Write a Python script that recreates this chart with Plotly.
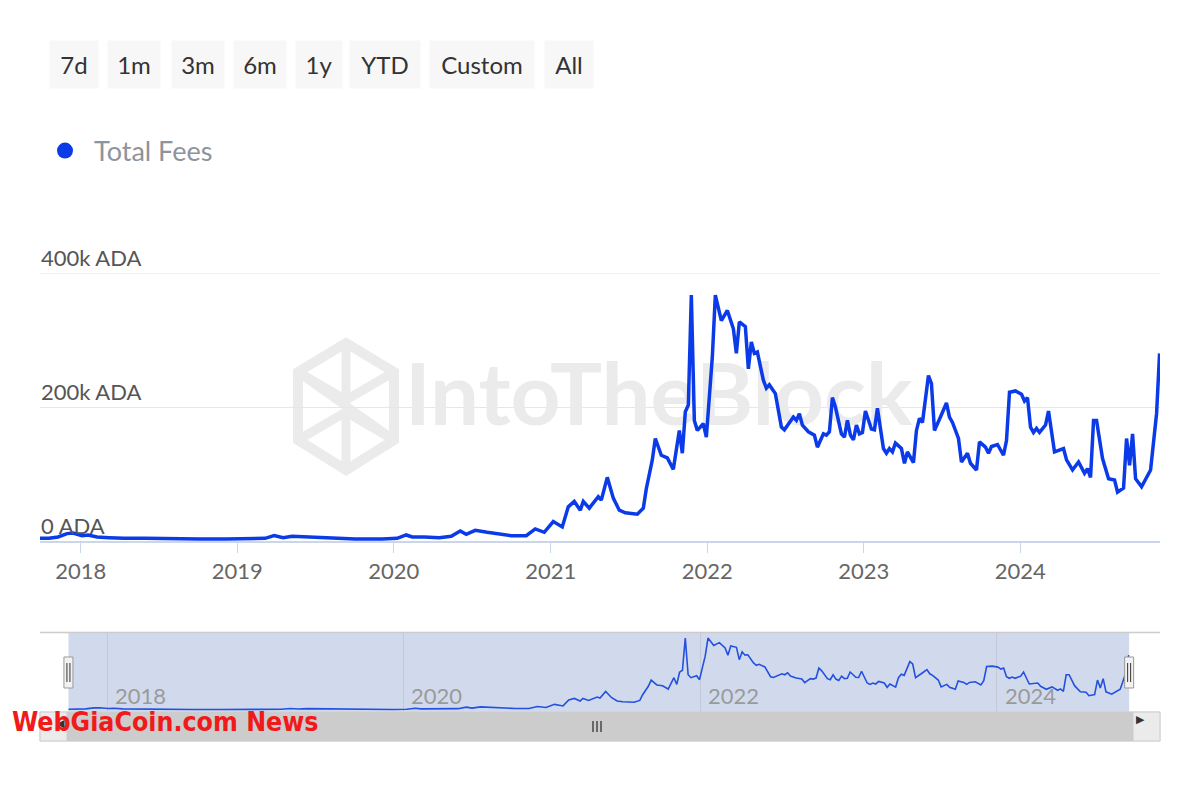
import plotly.graph_objects as go

# ---------------- data ----------------
dates = [
    "2017-09-28", "2017-10-19", "2017-11-09", "2017-11-30", "2017-12-14", "2018-01-04", "2018-01-18",
    "2018-02-08", "2018-03-08", "2018-04-12", "2018-05-31", "2018-08-02", "2018-10-04", "2018-12-06",
    "2019-01-31", "2019-03-07", "2019-03-28", "2019-04-18", "2019-05-09", "2019-06-13", "2019-08-01",
    "2019-10-03", "2019-12-05", "2020-01-09", "2020-01-30", "2020-02-13", "2020-03-12", "2020-04-16",
    "2020-05-14", "2020-06-04", "2020-06-18", "2020-07-09", "2020-08-06", "2020-09-03", "2020-10-01",
    "2020-11-05", "2020-11-26", "2020-12-17", "2021-01-07", "2021-01-28", "2021-02-11", "2021-02-25",
    "2021-03-11", "2021-03-18", "2021-04-01", "2021-04-22", "2021-04-29", "2021-05-13", "2021-05-27",
    "2021-06-10", "2021-06-24", "2021-07-22", "2021-08-05", "2021-08-12", "2021-08-26", "2021-09-02",
    "2021-09-16", "2021-09-30", "2021-10-14", "2021-10-28", "2021-11-04", "2021-11-11", "2021-11-18",
    "2021-11-25", "2021-12-02", "2021-12-09", "2021-12-23", "2021-12-30", "2022-01-13", "2022-01-20",
    "2022-02-03", "2022-02-17", "2022-03-03", "2022-03-10", "2022-03-17", "2022-03-31", "2022-04-07",
    "2022-04-14", "2022-04-21", "2022-04-28", "2022-05-12", "2022-05-19", "2022-05-26", "2022-06-09",
    "2022-06-23", "2022-06-30", "2022-07-21", "2022-07-28", "2022-08-04", "2022-08-11", "2022-08-25",
    "2022-09-08", "2022-09-15", "2022-09-29", "2022-10-06", "2022-10-13", "2022-10-20", "2022-10-27",
    "2022-11-10", "2022-11-17", "2022-11-24", "2022-12-01", "2022-12-08", "2022-12-15", "2022-12-22",
    "2022-12-29", "2023-01-05", "2023-01-19", "2023-01-26", "2023-02-02", "2023-02-16", "2023-02-23",
    "2023-03-02", "2023-03-09", "2023-03-16", "2023-03-30", "2023-04-06", "2023-04-13", "2023-04-27",
    "2023-05-04", "2023-05-11", "2023-05-18", "2023-06-01", "2023-06-08", "2023-06-15", "2023-06-29",
    "2023-07-13", "2023-07-20", "2023-07-27", "2023-08-10", "2023-08-17", "2023-08-31", "2023-09-07",
    "2023-09-21", "2023-09-28", "2023-10-12", "2023-10-19", "2023-10-26", "2023-11-09", "2023-11-23",
    "2023-11-30", "2023-12-07", "2023-12-21", "2024-01-04", "2024-01-11", "2024-01-18", "2024-01-25",
    "2024-02-01", "2024-02-08", "2024-02-15", "2024-02-29", "2024-03-07", "2024-03-21", "2024-04-11",
    "2024-04-18", "2024-05-02", "2024-05-16", "2024-05-30", "2024-06-06", "2024-06-13", "2024-06-20",
    "2024-06-27", "2024-07-11", "2024-07-25", "2024-08-08", "2024-08-15", "2024-08-29", "2024-09-05",
    "2024-09-12", "2024-09-19", "2024-09-26", "2024-10-10", "2024-10-31", "2024-11-14", "2024-11-21",
]

total_fees = [
    4000, 4000, 6000, 11000, 12000, 8000, 9000,
    6000, 5000, 4000, 4000, 3000, 3000, 3000,
    3000, 4000, 8000, 5000, 7000, 6000, 4000,
    3000, 3000, 4000, 9000, 6000, 6000, 5000,
    7000, 15000, 10000, 16000, 13000, 10000, 8000,
    8000, 18000, 13000, 29000, 21000, 51000, 59000,
    46000, 59000, 49000, 66000, 61000, 95000, 64000,
    46000, 42000, 40000, 49000, 78000, 121000, 153000,
    128000, 124000, 107000, 165000, 131000, 193000, 203000,
    367000, 180000, 165000, 175000, 155000, 275000, 367000,
    329000, 344000, 317000, 280000, 327000, 320000, 257000,
    297000, 280000, 282000, 240000, 228000, 233000, 220000,
    170000, 166000, 185000, 180000, 190000, 173000, 163000,
    158000, 140000, 160000, 158000, 163000, 214000, 200000,
    160000, 155000, 180000, 158000, 151000, 173000, 160000,
    162000, 194000, 167000, 166000, 198000, 138000, 131000,
    138000, 133000, 146000, 138000, 116000, 133000, 117000,
    165000, 183000, 177000, 247000, 235000, 165000, 185000,
    206000, 185000, 177000, 153000, 118000, 131000, 116000,
    106000, 148000, 140000, 131000, 141000, 144000, 128000,
    150000, 222000, 224000, 219000, 209000, 214000, 170000,
    162000, 168000, 162000, 173000, 194000, 133000, 138000,
    121000, 106000, 118000, 101000, 108000, 95000, 180000,
    180000, 123000, 93000, 91000, 73000, 79000, 153000,
    113000, 160000, 93000, 81000, 106000, 190000, 280000,
]

y_tick_values = [0, 200000, 400000]
y_tick_labels = ["0 ADA", "200k ADA", "400k ADA"]
x_tick_years = ["2018", "2019", "2020", "2021", "2022", "2023", "2024"]
nav_tick_years = ["2018", "2020", "2022", "2024"]
range_buttons = ["7d", "1m", "3m", "6m", "1y", "YTD", "Custom", "All"]
series_name = "Total Fees"

# ---------------- styling helpers ----------------
W, H = 1200, 800
ML, MR = 40, 40
PW = W - ML - MR


def px2x(px):
    return (px - ML) / PW


def px2y(py):
    return 1 - py / H


BLUE = "#0b3be8"
FONT = "Lato"

view_start, view_end = "2017-09-28", "2024-11-22"
nav_start, nav_end = "2017-07-20", "2025-02-06"

fig = go.Figure()

# watermark text (drawn first, so the line goes over it)
fig.add_trace(go.Scatter(
    x=["2021-09-10"], y=[205000], mode="text", text=["IntoTheBlock"],
    textfont=dict(family=FONT, size=87, color="#ebebeb", weight="bold"),
    hoverinfo="skip", showlegend=False, cliponaxis=False,
))

# main line
fig.add_trace(go.Scatter(
    x=dates, y=total_fees, mode="lines", name=series_name,
    line=dict(color=BLUE, width=3.5), showlegend=False,
    xaxis="x", yaxis="y",
))

# navigator line
fig.add_trace(go.Scatter(
    x=dates, y=total_fees, mode="lines", name=series_name,
    line=dict(color="#2450e0", width=1.6), showlegend=False,
    xaxis="x2", yaxis="y2", hoverinfo="skip",
))

# legend entry (dot)
fig.add_trace(go.Scatter(
    x=[None], y=[None], mode="markers", name=series_name,
    marker=dict(color=BLUE, size=19, symbol="circle"), showlegend=True,
))

shapes = []
nav_top, nav_bot = 633, 712
sb_top, sb_bot = 712, 741

# IntoTheBlock logo (hexagon outline)
hexpts = [(346, 343), (394, 372), (394, 440), (346, 470), (298, 440), (298, 372)]
path = "M " + " L ".join(f"{px2x(a)},{px2y(b)}" for a, b in hexpts) + " Z"
shapes.append(dict(type="path", xref="paper", yref="paper", path=path,
                   line=dict(color="#ebebeb", width=10), layer="below"))
inner = [
    [(298, 372), (346, 400), (394, 372)],
    [(346, 343), (346, 400)],
    [(298, 440), (346, 412), (394, 440)],
    [(346, 412), (346, 470)],
    [(298, 372), (394, 440)],
]
for seg in inner:
    p = "M " + " L ".join(f"{px2x(a)},{px2y(b)}" for a, b in seg)
    shapes.append(dict(type="path", xref="paper", yref="paper", path=p,
                       line=dict(color="#ebebeb", width=9), layer="below"))

# top grid line (400k) at the upper edge of the plot
shapes.append(dict(type="line", xref="paper", yref="y", x0=0, x1=1,
                   y0=y_tick_values[-1], y1=y_tick_values[-1],
                   line=dict(color="#e6e6e6", width=1), layer="below"))

# navigator mask for the selected range
shapes.append(dict(type="rect", xref="x2", yref="paper", x0=view_start, x1=view_end,
                   y0=px2y(nav_bot), y1=px2y(nav_top),
                   fillcolor="rgba(102,133,194,0.3)", line=dict(width=0), layer="below"))
# navigator top outline
shapes.append(dict(type="line", xref="paper", yref="paper", x0=0, x1=1,
                   y0=px2y(nav_top - 0.5), y1=px2y(nav_top - 0.5),
                   line=dict(color="#cccccc", width=1.5)))

# scrollbar
shapes.append(dict(type="rect", xref="paper", yref="paper", x0=0, x1=1,
                   y0=px2y(sb_bot), y1=px2y(sb_top), fillcolor="#f2f2f2",
                   line=dict(color="#e0e0e0", width=1)))
shapes.append(dict(type="rect", xref="paper", yref="paper", x0=px2x(67), x1=px2x(1133),
                   y0=px2y(sb_bot), y1=px2y(sb_top), fillcolor="#cccccc",
                   line=dict(color="#cccccc", width=1)))
for a, b in [(40, 67), (1133, 1160)]:
    shapes.append(dict(type="rect", xref="paper", yref="paper", x0=px2x(a), x1=px2x(b),
                       y0=px2y(sb_bot), y1=px2y(sb_top), fillcolor="#ebebeb",
                       line=dict(color="#cccccc", width=1)))
# grip on thumb
for off in (-4, 0, 4):
    shapes.append(dict(type="line", xref="paper", yref="paper",
                       x0=px2x(597 + off), x1=px2x(597 + off),
                       y0=px2y(732), y1=px2y(721), line=dict(color="#333333", width=1.3)))

# navigator handles
for anchor in (view_start, view_end):
    shapes.append(dict(type="rect", xref="x2", yref="paper", xsizemode="pixel", xanchor=anchor,
                       x0=-4.5, x1=4.5, y0=px2y(688), y1=px2y(657),
                       fillcolor="#f2f2f2", line=dict(color="#999999", width=1)))
    for off in (-1.5, 1.5):
        shapes.append(dict(type="line", xref="x2", yref="paper", xsizemode="pixel", xanchor=anchor,
                           x0=off, x1=off, y0=px2y(682), y1=px2y(663),
                           line=dict(color="#333333", width=1)))

annotations = []
# y-axis labels, Highcharts style: sitting above their grid line at the left edge
for v, t in zip(y_tick_values, y_tick_labels):
    annotations.append(dict(xref="paper", yref="y", x=0, y=v, xanchor="left", yanchor="bottom",
                            text=t, showarrow=False, yshift=1, borderpad=0,
                            font=dict(family=FONT, size=22, color="#555555")))

# navigator year labels (to the right of each grid line)
for yr in nav_tick_years:
    annotations.append(dict(xref="x2", yref="paper", x=f"{yr}-01-01", y=px2y(695),
                            xanchor="left", yanchor="middle", xshift=6, text=yr, showarrow=False,
                            font=dict(family=FONT, size=22, color="#9a9a9a")))

# range selector buttons (static)
btn_geom = [(74, 48), (134, 52), (198, 52), (260, 52), (319, 46), (385, 70), (482, 104), (569, 48)]
for label, (bx, bw) in zip(range_buttons, btn_geom):
    annotations.append(dict(xref="paper", yref="paper", x=px2x(bx), y=px2y(64.5),
                            xanchor="center", yanchor="middle", text=label, showarrow=False,
                            width=bw, height=47, bgcolor="#f7f7f7", borderpad=0,
                            font=dict(family=FONT, size=24, color="#333333")))

# scrollbar arrows
annotations.append(dict(xref="paper", yref="paper", x=px2x(1146.5), y=px2y(727), text="▶",
                        showarrow=False, font=dict(size=11, color="#333333")))
annotations.append(dict(xref="paper", yref="paper", x=px2x(53.5), y=px2y(731), text="◀",
                        showarrow=False, font=dict(size=11, color="#333333")))

# overlay watermark text
annotations.append(dict(xref="paper", yref="paper", x=px2x(10), y=px2y(721), xanchor="left",
                        yanchor="middle", text="<b>WebGiaCoin.com News</b>", showarrow=False,
                        font=dict(family="DejaVu Sans Condensed, Liberation Sans Narrow, DejaVu Sans",
                                  size=26.5, color="#f01a1a")))

fig.update_layout(
    width=W, height=H,
    margin=dict(l=ML, r=MR, t=0, b=0),
    paper_bgcolor="white", plot_bgcolor="rgba(0,0,0,0)",
    font=dict(family=FONT),
    hovermode=False,
    showlegend=True,
    legend=dict(x=px2x(36), y=px2y(151), xanchor="left", yanchor="middle",
                font=dict(family=FONT, size=27, color="#8d949b"),
                itemwidth=48, bgcolor="rgba(0,0,0,0)"),
    xaxis=dict(
        type="date", domain=[0, 1], anchor="y", range=[view_start, view_end],
        tickmode="array", tickvals=[f"{y}-01-01" for y in x_tick_years], ticktext=x_tick_years,
        ticks="outside", ticklen=10, tickcolor="#ccd6eb", tickwidth=1,
        showline=True, linecolor="#ccd6eb", linewidth=1.5,
        showgrid=False, zeroline=False,
        tickfont=dict(family=FONT, size=22, color="#666666"),
        fixedrange=True,
    ),
    yaxis=dict(
        domain=[px2y(541), px2y(273)], anchor="x",
        range=[0, 400000],
        tickmode="array", tickvals=y_tick_values, showticklabels=False, ticks="",
        showgrid=True, gridcolor="#e6e6e6", gridwidth=1,
        zeroline=False, showline=False,
        fixedrange=True,
    ),
    xaxis2=dict(
        type="date", domain=[0, 1], anchor="y2", range=[nav_start, nav_end],
        tickmode="array", tickvals=[f"{y}-01-01" for y in nav_tick_years],
        showticklabels=False, ticks="",
        showgrid=True, gridcolor="#c3c9d6", gridwidth=1,
        showline=False, zeroline=False,
        fixedrange=True,
    ),
    yaxis2=dict(
        domain=[px2y(nav_bot), px2y(nav_top)], anchor="x2",
        range=[-10000, 393000], visible=False, fixedrange=True,
    ),
    shapes=shapes,
    annotations=annotations,
)

fig.write_html("out.html", post_script="document.body.style.margin='0';",
               config={"displayModeBar": False})
